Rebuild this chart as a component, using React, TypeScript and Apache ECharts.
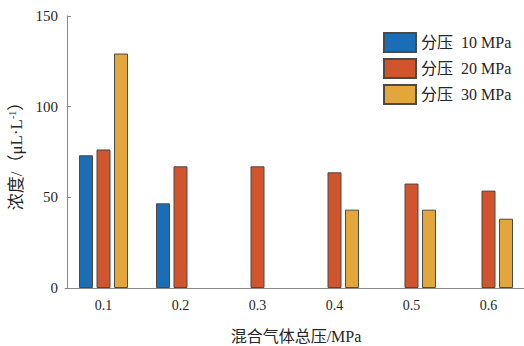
import React, { useEffect, useRef } from "react";
import * as echarts from "echarts";

const categories = ["0.1", "0.2", "0.3", "0.4", "0.5", "0.6"];
const seriesNames = ["分压  10 MPa", "分压  20 MPa", "分压  30 MPa"];
const p10 = [73.2, 46.7, null, null, null, null];
const p20 = [76.4, 67.1, 67.1, 63.8, 57.6, 53.7];
const p30 = [129.3, null, null, 43.2, 43.2, 38.2];
const colors = ["#1b6db5", "#d1542c", "#e2a63a"];
const yTicks = { min: 0, max: 150, interval: 50 };

const FONT = "'Liberation Serif', 'Times New Roman', 'Noto Sans CJK SC', serif";

export default function App() {
  const ref = useRef<HTMLDivElement>(null);
  useEffect(() => {
    const chart = echarts.init(ref.current!, null, { renderer: "svg" });
    const data = [p10, p20, p30];
    chart.setOption({
      animation: false,
      textStyle: { fontFamily: FONT },
      grid: { left: 65, right: -3, top: 16, bottom: 58, containLabel: false, outerBoundsMode: "none" },
      legend: {
        orient: "vertical",
        left: 383,
        top: 32,
        padding: 0,
        itemWidth: 32,
        itemHeight: 19,
        itemGap: 5,
        icon: "rect",
        textStyle: { fontFamily: FONT, fontSize: 16, color: "#262626" },
        data: seriesNames,
      },
      xAxis: {
        type: "category",
        data: categories,
        name: "混合气体总压/MPa",
        nameLocation: "middle",
        nameGap: 40,
        nameTextStyle: { fontFamily: FONT, fontSize: 16, color: "#262626" },
        axisLine: { lineStyle: { color: "#8a8a8a", width: 1 } },
        axisTick: { show: true, inside: true, alignWithLabel: true, length: 4, lineStyle: { color: "#555" } },
        axisLabel: { fontFamily: FONT, fontSize: 14, color: "#262626", margin: 10 },
        splitLine: { show: false },
      },
      yAxis: {
        type: "value",
        min: yTicks.min,
        max: yTicks.max,
        interval: yTicks.interval,
        offset: -2,
        name: "浓度/（μL·L{sup|-1}）",
        nameLocation: "middle",
        nameRotate: 90,
        nameGap: 42,
        nameTextStyle: {
          fontFamily: FONT,
          fontSize: 17,
          color: "#262626",
          rich: { sup: { fontSize: 10, verticalAlign: "top", padding: [0, 0, 8, 0], fontFamily: FONT, color: "#262626" } },
        },
        axisLine: { show: true, lineStyle: { color: "#8a8a8a", width: 1 } },
        axisTick: { show: true, inside: true, length: 4, lineStyle: { color: "#8a8a8a" } },
        axisLabel: { fontFamily: FONT, fontSize: 15, color: "#262626", margin: 9 },
        splitLine: { show: false },
      },
      series: seriesNames.map((name, i) => ({
        name,
        type: "bar",
        data: data[i],
        barWidth: 14,
        barGap: "25%",
        itemStyle: { color: colors[i], borderColor: "#4a4a4a", borderWidth: 1 },
      })),
    });
    return () => chart.dispose();
  }, []);
  return <div ref={ref} style={{ width: 524, height: 346, position: "absolute", left: 0, top: 0 }} />;
}
